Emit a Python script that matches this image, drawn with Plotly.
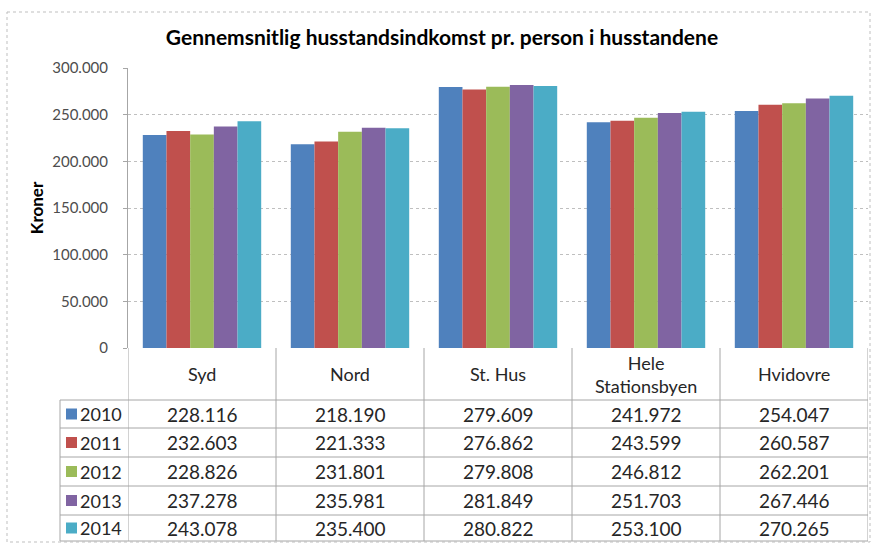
import plotly.graph_objects as go

categories = ["Syd", "Nord", "St. Hus", "Hele<br>Stationsbyen", "Hvidovre"]
years = ["2010", "2011", "2012", "2013", "2014"]
values_2010 = [228116, 218190, 279609, 241972, 254047]
values_2011 = [232603, 221333, 276862, 243599, 260587]
values_2012 = [228826, 231801, 279808, 246812, 262201]
values_2013 = [237278, 235981, 281849, 251703, 267446]
values_2014 = [243078, 235400, 280822, 253100, 270265]
colors = ["#4F81BD", "#C0504D", "#9BBB59", "#8064A2", "#4BACC6"]
tick_vals = [0, 50000, 100000, 150000, 200000, 250000, 300000]
tick_text = ["0", "50.000", "100.000", "150.000", "200.000", "250.000", "300.000"]

series = [values_2010, values_2011, values_2012, values_2013, values_2014]

W, H = 877, 545
L, R, T, B = 128, 9, 68, 197
PW, PH = W - L - R, H - T - B

def py(p):  # pixel y -> paper y
    return (H - B - p) / PH

def px(p):  # pixel x -> paper x
    return (p - L) / PW

FONT = "Lato, Liberation Sans, Arial, sans-serif"
TXT = "#262626"

fig = go.Figure()
xs = list(range(len(categories)))
for yr, vals, col in zip(years, series, colors):
    fig.add_trace(go.Bar(x=xs, y=vals, name=yr, marker=dict(color=col, line=dict(width=0)),
                         showlegend=False, hoverinfo="skip"))

shapes = []
annotations = []
grid_col = "#A6A6A6"
row_tops = [400, 428, 457, 486, 515, 541]
for p in row_tops:
    shapes.append(dict(type="line", xref="paper", yref="paper", x0=px(60), x1=1, y0=py(p), y1=py(p),
                       line=dict(color=grid_col, width=1)))
for i in range(len(categories) + 1):
    shapes.append(dict(type="line", xref="x", yref="paper", x0=i - 0.5, x1=i - 0.5, y0=0, y1=py(541),
                       line=dict(color=grid_col, width=1)))
shapes.append(dict(type="line", xref="paper", yref="paper", x0=px(60), x1=px(60), y0=py(400), y1=py(541),
                   line=dict(color=grid_col, width=1)))
# outer chart border
shapes.append(dict(type="rect", xref="paper", yref="paper", x0=px(7), x1=px(870), y0=py(12), y1=py(542),
                   line=dict(color="#BFBFBF", width=1, dash="dot")))

for i, c in enumerate(categories):
    annotations.append(dict(x=i, y=py(374), xref="x", yref="paper", text=c, showarrow=False,
                            yanchor="middle", xanchor="center",
                            font=dict(family=FONT, size=18, color=TXT), align="center"))

def fmt(v):
    return f"{v:,}".replace(",", ".")

for r, (yr, vals, col) in enumerate(zip(years, series, colors)):
    yc = (row_tops[r] + row_tops[r + 1]) / 2
    shapes.append(dict(type="rect", xref="paper", yref="paper", x0=px(66), x1=px(77),
                       y0=py(yc + 5.5), y1=py(yc - 5.5), fillcolor=col, line=dict(width=0)))
    annotations.append(dict(x=px(78), y=py(yc), xref="paper", yref="paper", text=yr, showarrow=False,
                            xanchor="left", yanchor="middle",
                            font=dict(family=FONT, size=18, color=TXT)))
    for i, v in enumerate(vals):
        annotations.append(dict(x=i, y=py(yc), xref="x", yref="paper", text=fmt(v), showarrow=False,
                                xanchor="center", yanchor="middle",
                                font=dict(family=FONT, size=19, color=TXT)))

fig.update_layout(
    width=W, height=H,
    margin=dict(l=L, r=R, t=T, b=B, autoexpand=False),
    paper_bgcolor="white", plot_bgcolor="white",
    barmode="group", bargap=0.2, bargroupgap=0,
    title=dict(text="<b>Gennemsnitlig husstandsindkomst pr. person i husstandene</b>",
               x=442 / W, xref="container", y=1 - 38 / H, yref="container",
               yanchor="middle", xanchor="center",
               font=dict(family=FONT, size=21, color="#000")),
    xaxis=dict(range=[-0.5, 4.5], showticklabels=False, showgrid=False, zeroline=False,
               showline=False, fixedrange=True),
    yaxis=dict(range=[0, 300000], tickvals=tick_vals, ticktext=tick_text,
               showgrid=True, gridcolor="#BFBFBF", griddash="dot", gridwidth=1,
               showline=True, linecolor=grid_col, linewidth=1,
               ticks="outside", ticklen=4, tickcolor=grid_col, ticklabelstandoff=12,
               zeroline=False, fixedrange=True,
               tickfont=dict(family=FONT, size=15, color="#4D4D4D"),
               title=dict(text="<b>Kroner</b>", font=dict(family=FONT, size=17, color="#000"), standoff=4)),
    shapes=shapes, annotations=annotations,
)
fig.write_html("out.html", config={"displayModeBar": False},
               post_script="document.body.style.margin='0';")
